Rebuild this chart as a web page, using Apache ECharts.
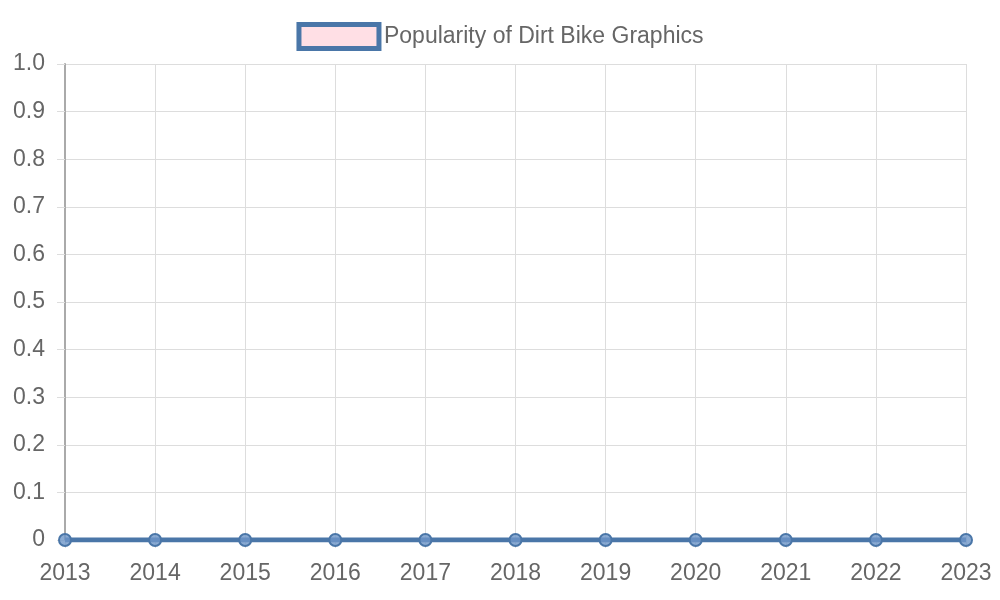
<!DOCTYPE html>
<html><head><meta charset="utf-8">
<script src="https://cdn.jsdelivr.net/npm/echarts@6/dist/echarts.min.js"></script>
<style>html,body{margin:0;padding:0;background:#fff}#c{width:1000px;height:600px}</style>
</head><body><div id="c"></div>
<script>
const categories = ['2013','2014','2015','2016','2017','2018','2019','2020','2021','2022','2023'];
const popularity = [0,0,0,0,0,0,0,0,0,0,0];
const seriesName = 'Popularity of Dirt Bike Graphics';
const chart = echarts.init(document.getElementById('c'));
const font = 'Liberation Sans, Arial, sans-serif';
chart.setOption({
  animation:false,
  legend:{top:17,left:'center',itemWidth:80,itemHeight:24,itemGap:12,
    textStyle:{fontFamily:font,fontSize:23,color:'#666'},
    data:[{name:seriesName,icon:'rect',itemStyle:{color:'#ffdfe5',borderColor:'#4a76a8',borderWidth:5}}]},
  grid:{left:65,right:34,top:64,bottom:60,containLabel:false},
  xAxis:{type:'category',data:categories,boundaryGap:false,
    axisLine:{show:false},
    axisTick:{show:true,alignWithLabel:true,length:8,lineStyle:{color:'#ddd'}},
    axisLabel:{fontFamily:font,fontSize:23,color:'#666',margin:22,interval:0},
    splitLine:{show:true,lineStyle:{color:'#ddd'}}},
  yAxis:{type:'value',min:0,max:1,interval:0.1,
    axisLine:{show:true,lineStyle:{color:'#aaa',width:2}},
    axisTick:{show:true,length:8,lineStyle:{color:'#ddd'}},
    axisLabel:{fontFamily:font,fontSize:23,color:'#666',margin:20,
      formatter:v=>v===0?'0':v.toFixed(1)},
    splitLine:{show:true,lineStyle:{color:'#ddd'}}},
  series:[{name:seriesName,type:'line',data:popularity,
    lineStyle:{color:'#4a76a8',width:5},
    symbol:'circle',symbolSize:12,
    itemStyle:{color:'rgba(110,150,200,0.8)',borderColor:'#4a76a8',borderWidth:2}}]
});
</script></body></html>
